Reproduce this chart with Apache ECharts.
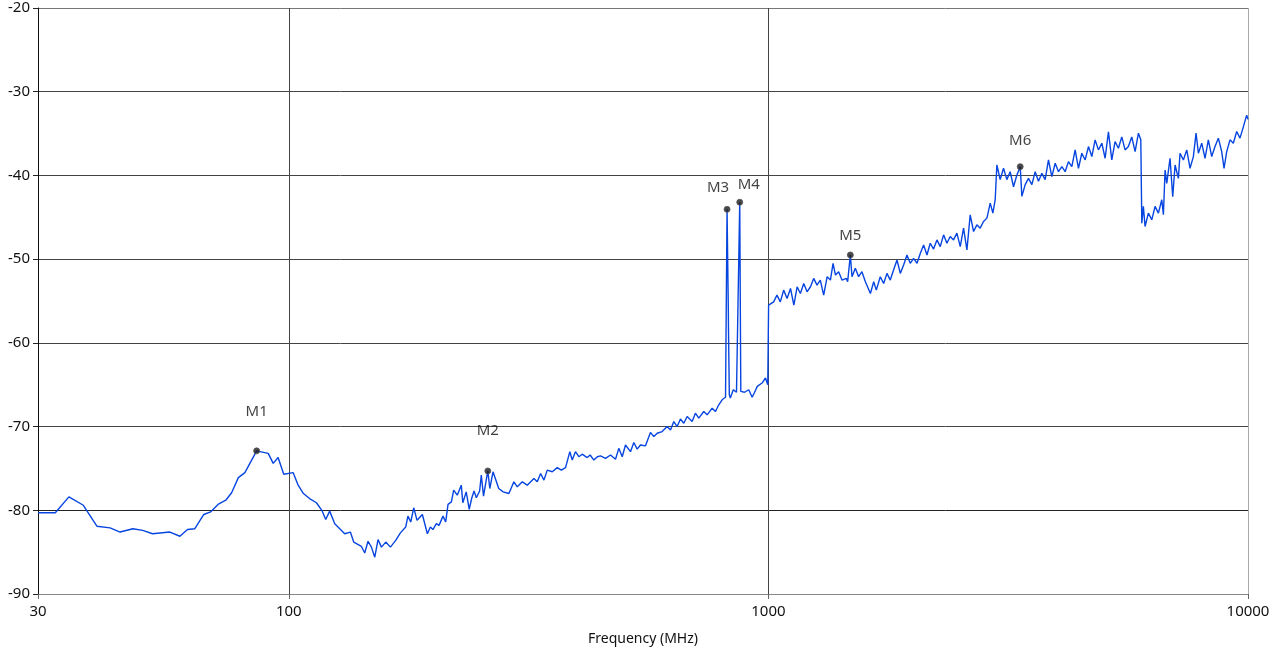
<!DOCTYPE html>
<html>
	<head>
		<meta charset="utf-8">
		<title>spectrum</title>
		<script src="https://cdn.jsdelivr.net/npm/echarts@6/dist/echarts.min.js"></script>
		<style>
			html, body { margin: 0; padding: 0; background: #fff; }
		</style>
	</head>
	<body>
		<div id="box" style="width: 1279px;height: 655px;"></div>
		<script>

			// 频率 (MHz) 与电平 (dBm)
			var freq = [
				// 30 - 100
				30, 32.6, 34.8, 37.3, 39.8, 42.4, 44.5, 47.3, 49.6, 52.0, 56.5, 59.3, 61.5, 63.7, 66.5, 68.7, 71.2, 73.9, 76.0, 78.5, 81.0, 85.7, 90.6, 92.8, 95.0, 97.6,
				// 100 - 300
				102.1, 104.6, 107.3, 110.5, 114.2, 117.2, 119.4, 121.7, 124.7, 130.8, 134.4, 136.6, 141.7, 144, 146.3, 148.7, 151.1, 153.5, 156, 159.3, 162.9, 167.1, 170.9, 175.3, 177.2, 179.6, 182.2, 185.1, 189.9, 194.5, 197.3, 199.8,
				203.1, 205.7, 209.7, 212.4, 214.8, 218.3, 220.7, 224.5, 228.9, 230.6, 234.4, 237.8, 240.8, 243.4, 246.1, 250, 252, 254.7, 260, 262.5, 266.6, 274, 280, 287.7, 294.7, 299.5,
				// 300 - 800
				306.8, 314.2, 324.4, 329.7, 335, 340.4, 345.9, 354.3, 362.9, 370, 377.6, 385.5, 389.9, 396, 402.6, 409, 419, 425, 432.6, 440, 446.6, 457.6, 468.7, 480, 487.7, 495.7,
				503.6, 515.8, 524.1, 532.6, 541.1, 554.3, 567.7, 576.9, 586.3, 600.5, 615, 625, 635, 645.3, 655.6, 666.2, 677, 693.4, 704.5, 715.9, 733.3, 745.2, 763.3, 775.6, 788, 800.8,
				// 800 - 1000
				808, 814, 820, 825, 825.5, 829, 833, 845, 858, 866, 871.5, 876, 883, 892, 910, 925, 936, 948, 970, 986, 997, 999.5,
				// 1000 - 3000
				1001, 1025.7, 1042, 1059, 1076, 1094, 1112, 1130, 1148, 1166, 1185, 1204, 1224, 1243, 1263, 1283, 1304, 1326, 1347, 1364, 1380, 1401, 1424, 1454, 1463, 1482, 1494, 1518, 1542, 1567, 1593,
				1632, 1658, 1679, 1711, 1739, 1767, 1795, 1824, 1854, 1884, 1914, 1945, 1976, 2008, 2041, 2074, 2107, 2141, 2175, 2210, 2246, 2282, 2319, 2356, 2394, 2432, 2472, 2512, 2552, 2594,
				2635, 2678, 2721, 2764, 2809, 2855, 2901, 2938, 2971,
				// 3000 - 10000
				2995, 3043, 3092, 3142, 3192, 3244, 3297, 3350, 3377, 3431, 3486, 3543, 3600, 3657, 3717, 3776, 3837, 3899, 3963, 4026, 4092, 4157, 4223, 4292, 4361, 4431, 4503, 4576, 4649, 4725,
				4800, 4877, 4957, 5036, 5117, 5200, 5283, 5368, 5455, 5543, 5631, 5723, 5816, 5909, 5977, 6006, 6051, 6101, 6199, 6300, 6401, 6504, 6610, 6662, 6716, 6770, 6878, 6967, 7046, 7159,
				7216, 7333, 7452, 7571, 7693, 7793, 7880, 8008, 8136, 8266, 8401, 8536, 8673, 8814, 8913, 9028, 9172, 9320, 9472, 9623, 9779, 9937, 10000
			]

			var level = [
				// 30 - 100
				-80.3, -80.3, -78.4, -79.4, -81.9, -82.1, -82.6, -82.2, -82.4, -82.8, -82.6, -83.1, -82.3, -82.2, -80.5, -80.2, -79.3, -78.8, -77.9, -76.1, -75.5, -72.9, -73.2, -74.4, -73.7, -75.7,
				// 100 - 300
				-75.5, -77.0, -78.0, -78.6, -79.1, -80.0, -81.1, -80.1, -81.6, -82.8, -82.6, -83.8, -84.3, -85.1, -83.7, -84.4, -85.6, -83.5, -84.4, -83.8, -84.4, -83.6, -82.7, -82.0, -80.7, -81.4, -79.7, -81.2, -80.5, -82.8, -82.0, -82.3,
				-81.6, -81.8, -80.7, -81.4, -79.3, -79.0, -77.6, -78.2, -77.0, -79.1, -77.8, -79.9, -78.5, -77.7, -78.5, -77.7, -75.8, -78.3, -75.3, -77.4, -75.4, -77.4, -77.8, -78.0, -76.6, -77.2,
				// 300 - 800
				-76.6, -77.0, -76.2, -76.6, -75.6, -76.4, -75.2, -75.4, -74.9, -75.2, -74.9, -73.0, -74.0, -73.0, -73.6, -73.3, -73.7, -73.4, -74.0, -73.6, -73.5, -73.8, -73.4, -73.9, -72.6, -73.6,
				-72.2, -73.0, -71.9, -72.7, -72.2, -72.3, -70.7, -71.2, -70.8, -70.6, -70.0, -70.4, -69.4, -70.0, -69.1, -69.6, -68.8, -69.4, -68.4, -69.0, -68.2, -68.6, -67.8, -68.2, -67.4, -66.8,
				// 800 - 1000
				-66.9, -66.5, -44.05, -56.0, -58.0, -66.2, -66.6, -65.6, -65.9, -66.0, -43.2, -65.8, -65.6, -65.9, -65.6, -66.5, -65.9, -65.2, -64.8, -64.2, -65.0, -65.0,
				// 1000 - 3000
				-55.5, -55.1, -54.3, -55.1, -53.7, -54.7, -53.5, -55.5, -53.3, -54.1, -52.9, -53.9, -53.3, -52.3, -53.1, -52.5, -54.3, -52.1, -52.5, -50.5, -51.9, -51.5, -52.5, -52.3, -52.7, -49.5, -52.1, -51.1, -52.1, -51.5, -52.7,
				-54.1, -52.7, -53.7, -52.1, -52.9, -51.7, -52.5, -51.3, -50.1, -51.7, -50.7, -49.5, -50.5, -49.9, -50.5, -49.3, -48.3, -49.5, -48.1, -48.8, -47.7, -48.5, -47.1, -48.1, -47.3, -47.7, -46.9, -48.5, -46.3, -48.9,
				-44.7, -46.7, -45.9, -46.3, -45.5, -45.1, -43.3, -44.5, -42.9,
				// 3000 - 10000
				-38.75, -40.5, -39.15, -40.5, -39.55, -41.35, -39.95, -38.95, -42.5, -41.1, -40.35, -41.1, -39.55, -40.7, -39.75, -40.5, -38.15, -40.15, -38.55, -39.55, -38.95, -39.55, -38.35, -38.95, -36.95, -39.15, -37.35, -38.15, -36.55, -37.75,
				-35.75, -36.95, -36.15, -37.95, -34.8, -38.15, -35.95, -36.75, -35.4, -36.95, -36.55, -35.4, -37.15, -34.95, -35.75, -45.7, -43.7, -46.1, -44.5, -45.3, -43.7, -44.5, -42.9, -44.7, -39.35, -40.95, -37.95, -42.55, -38.75, -40.35,
				-37.35, -38.15, -36.95, -39.15, -37.75, -34.95, -37.35, -36.15, -37.95, -35.75, -37.75, -36.55, -35.55, -37.15, -39.15, -37.15, -35.75, -36.15, -34.75, -35.55, -34.2, -32.8, -33.3
			]

			// 标记点
			var markerNames = ['M1', 'M2', 'M3', 'M4', 'M5', 'M6']
			var markerFreq = [85.7, 260, 820, 871.5, 1482, 3350]
			var markerLevel = [-72.9, -75.3, -44.05, -43.2, -49.5, -38.95]

			// 刻度
			var xTicks = [30, 100, 1000, 10000]

			// 标签偏移 (样式)
			var labelOffsets = [[0, -23], [0, -24], [-9, -6], [9, -1], [0, -3], [0, -10]]

			var lineData = freq.map(function (f, i) { return [f, level[i]] })
			var markerData = markerNames.map(function (n, i) {
				return {
					name: n,
					value: [markerFreq[i], markerLevel[i]],
					label: { offset: labelOffsets[i] }
				}
			})

			var mCharts = echarts.init(document.querySelector('#box'))

			var font = 'Noto Sans'

			var option = {
				animation: false,
				grid: {
					left: 38,
					right: 31,
					top: 8,
					bottom: 61
				},
				xAxis: {
					type: 'log',
					logBase: 10,
					min: 30,
					max: 10000,
					name: 'Frequency (MHz)',
					nameLocation: 'middle',
					nameGap: 38,
					nameTextStyle: { color: '#111', fontSize: 14, fontFamily: font },
					axisLine: { show: true, lineStyle: { color: '#888' } },
					axisTick: {
						show: true,
						length: 5,
						customValues: xTicks,
						lineStyle: { color: '#666' }
					},
					axisLabel: {
						customValues: xTicks,
						formatter: function (v) { return String(Math.round(v)) },
						color: '#111',
						fontSize: 15,
						fontFamily: font,
						margin: 10
					},
					splitLine: {
						show: true,
						lineStyle: { color: ['#333', '#444', '#444', '#aaa'], width: 1 }
					},
					minorTick: { show: false },
					minorSplitLine: { show: false }
				},
				yAxis: {
					type: 'value',
					min: -90,
					max: -20,
					interval: 10,
					axisLine: { show: true, lineStyle: { color: '#111' } },
					axisTick: { show: true, length: 5, lineStyle: { color: '#222' } },
					axisLabel: {
						color: '#111',
						fontSize: 15,
						fontFamily: font,
						margin: 8
					},
					splitLine: {
						show: true,
						lineStyle: { color: ['#888', '#222', '#444', '#444', '#444', '#444', '#444', '#777'], width: 1 }
					}
				},
				series: [
					{
						type: 'line',
						data: lineData,
						showSymbol: false,
						symbol: 'none',
						sampling: null,
						lineStyle: { color: '#0745e0', width: 1.4 },
						silent: true,
						z: 2
					},
					{
						type: 'scatter',
						data: markerData,
						symbol: 'circle',
						symbolSize: 6,
						itemStyle: { color: '#1a1a1a', borderColor: '#555', borderWidth: 1 },
						label: {
							show: true,
							position: 'top',
							formatter: '{b}',
							color: '#111',
							fontSize: 15,
							fontFamily: font
						},
						z: 3
					}
				]
			}
			mCharts.setOption(option)

		</script>
	</body>
</html>
